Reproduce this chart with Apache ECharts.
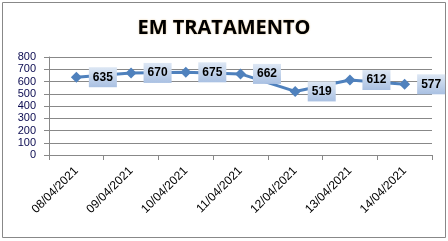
<!DOCTYPE html>
<html><head><meta charset="utf-8">
<script src="https://cdn.jsdelivr.net/npm/echarts@6/dist/echarts.min.js"></script>
<style>html,body{margin:0;padding:0;background:#fff}#c{width:448px;height:241px}</style>
</head><body><div id="c"></div>
<script>
const categories = ['08/04/2021','09/04/2021','10/04/2021','11/04/2021','12/04/2021','13/04/2021','14/04/2021'];
const values = [635, 670, 675, 662, 519, 612, 577];
const title = 'EM TRATAMENTO';
const chart = echarts.init(document.getElementById('c'));
chart.setOption({
  animation: false,
  backgroundColor: '#fff',
  title: {
    text: title, left: 'center', top: 13,
    textStyle: { fontFamily: 'Open Sans', fontWeight: 'bold', fontSize: 20, color: '#000',
      textShadowColor: 'rgba(200,140,40,0.5)', textShadowBlur: 2 }
  },
  graphic: [{ type: 'rect', shape: { x: 2.5, y: 2.5, width: 443, height: 235 }, style: { fill: 'none', stroke: '#888', lineWidth: 1 }, silent: true }],
  grid: { left: 49, right: 16, top: 57, bottom: 86 },
  xAxis: {
    type: 'category', data: categories, boundaryGap: true,
    axisLine: { lineStyle: { color: '#888' } },
    axisTick: { show: true, length: 5, lineStyle: { color: '#888' } },
    axisLabel: { rotate: 45, color: '#000', fontFamily: 'Liberation Sans', fontSize: 12, margin: 14 }
  },
  yAxis: {
    type: 'value', min: 0, max: 800, interval: 100,
    axisLine: { show: true, lineStyle: { color: '#888' } },
    axisTick: { show: true, length: 5, lineStyle: { color: '#888' } },
    splitLine: { lineStyle: { color: '#888' } },
    axisLabel: { color: '#0a0a50', fontFamily: 'Liberation Sans', fontSize: 11, margin: 13 }
  },
  series: [{
    type: 'line', data: values,
    symbol: 'diamond', symbolSize: 11,
    lineStyle: { color: '#4f81bd', width: 3 },
    itemStyle: { color: '#4f81bd' },
    label: {
      show: true, position: 'right', distance: 7,
      fontFamily: 'Liberation Sans', fontWeight: 'bold', fontSize: 12, color: '#000',
      padding: [3, 4], lineHeight: 14,
      backgroundColor: { type: 'linear', x: 0, y: 0, x2: 0, y2: 1,
        colorStops: [{ offset: 0, color: '#dde7f4' }, { offset: 1, color: '#a9c0e2' }] }
    }
  }]
});
</script></body></html>
